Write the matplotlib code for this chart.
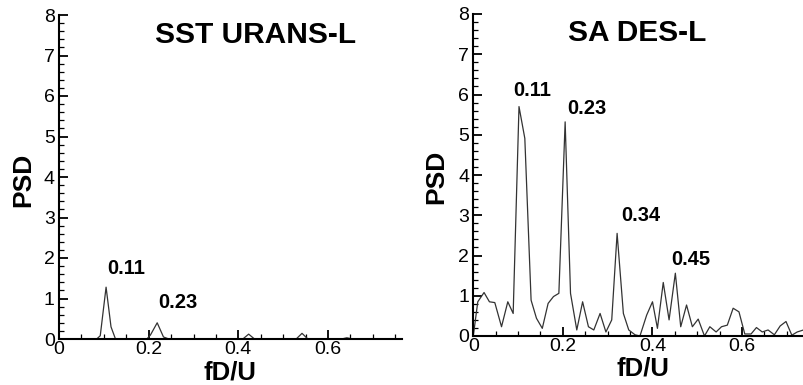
"""Two PSD spectra side by side (SST URANS-L vs SA DES-L), Tecplot-like styling."""
import matplotlib
matplotlib.use("Agg")
import matplotlib.pyplot as plt
from matplotlib.ticker import MultipleLocator

plt.rcParams["font.family"] = ["Liberation Sans", "DejaVu Sans"]

# SST URANS-L: nearly flat, two small peaks
sst_f = [0.0, 0.084, 0.092, 0.105, 0.116, 0.126, 0.196, 0.204, 0.219, 0.233, 0.245,
         0.410, 0.423, 0.436, 0.529, 0.542, 0.555, 0.630, 0.642, 0.655, 0.765]
sst_psd = [0.0, 0.0, 0.08, 1.28, 0.30, 0.0, 0.0, 0.10, 0.40, 0.05, 0.0,
           0.0, 0.12, 0.0, 0.0, 0.14, 0.0, 0.0, 0.03, 0.0, 0.0]

# SA DES-L: broadband with harmonics
des_f = [0.000, 0.010, 0.024, 0.036, 0.048, 0.063, 0.077, 0.089, 0.102, 0.115,
         0.129, 0.141, 0.154, 0.167, 0.179, 0.191, 0.205, 0.217, 0.231, 0.244,
         0.257, 0.269, 0.283, 0.296, 0.309, 0.321, 0.335, 0.347, 0.361, 0.372,
         0.387, 0.400, 0.411, 0.424, 0.437, 0.451, 0.463, 0.476, 0.489, 0.502,
         0.516, 0.528, 0.542, 0.554, 0.567, 0.580, 0.593, 0.606, 0.620, 0.632,
         0.645, 0.658, 0.672, 0.685, 0.698, 0.711, 0.723, 0.737, 0.750]
des_psd = [0.00, 0.85, 1.08, 0.85, 0.83, 0.23, 0.85, 0.56, 5.70, 4.91,
           0.89, 0.44, 0.19, 0.81, 0.98, 1.06, 5.32, 1.06, 0.15, 0.85,
           0.23, 0.15, 0.56, 0.10, 0.40, 2.55, 0.56, 0.15, 0.03, 0.00,
           0.52, 0.85, 0.19, 1.33, 0.40, 1.56, 0.23, 0.77, 0.23, 0.42,
           0.00, 0.23, 0.10, 0.23, 0.27, 0.69, 0.60, 0.05, 0.05, 0.21,
           0.10, 0.15, 0.03, 0.25, 0.36, 0.02, 0.10, 0.15, 0.15]

sst_peaks = [("0.11", 0.150, 1.75), ("0.23", 0.266, 0.89)]
des_peaks = [("0.11", 0.131, 6.11), ("0.23", 0.254, 5.66),
             ("0.34", 0.374, 3.00), ("0.45", 0.486, 1.89)]


def style(ax, xmax):
    ax.set_xlim(0, xmax)
    ax.set_ylim(0, 8)
    ax.xaxis.set_major_locator(MultipleLocator(0.2))
    ax.xaxis.set_minor_locator(MultipleLocator(0.05))
    ax.yaxis.set_major_locator(MultipleLocator(1))
    ax.yaxis.set_minor_locator(MultipleLocator(0.2))
    ax.set_xticks([0, 0.2, 0.4, 0.6])
    ax.set_xticklabels(["0", "0.2", "0.4", "0.6"])
    for s in ("top", "right"):
        ax.spines[s].set_visible(False)
    for s in ("left", "bottom"):
        ax.spines[s].set_linewidth(1.5)
    ax.tick_params(which="major", direction="in", length=6.5, width=1.3,
                   labelsize=14, pad=3)
    ax.tick_params(axis="x", which="major", pad=1.5)
    ax.tick_params(which="minor", direction="in", length=3.5, width=0.9)
    ax.patch.set_alpha(0)


fig = plt.figure(figsize=(8.04, 3.85), dpi=100)
# axes placed in pixel terms: left panel x 59..402, y 15..339; right x 473..(past edge), y 14..336
ax1 = fig.add_axes([59 / 804, 46 / 385, 343 / 804, 324 / 385])
ax2 = fig.add_axes([473.3 / 804, 49 / 385, 336 / 804, 322 / 385])

ax1.plot(sst_f, sst_psd, color="#333333", lw=0.9, clip_on=False)
ax2.plot(des_f, des_psd, color="#333333", lw=0.9)
style(ax1, 0.765)
style(ax2, 0.75)

for ax, peaks in ((ax1, sst_peaks), (ax2, des_peaks)):
    for txt, x, y in peaks:
        ax.text(x, y, txt, ha="center", va="center", fontsize=14.5, fontweight="bold")

ax1.text(0.4375, 7.5, "SST URANS-L", ha="center", va="center", fontsize=21.5, fontweight="bold")
ax2.text(0.365, 7.53, "SA DES-L", ha="center", va="center", fontsize=21.5, fontweight="bold")

fig.text(23 / 804, 1 - 180 / 385, "PSD", rotation=90, ha="center", va="center",
         fontsize=19, fontweight="bold")
fig.text(436 / 804, 1 - 177 / 385, "PSD", rotation=90, ha="center", va="center",
         fontsize=19, fontweight="bold")
fig.text(230 / 804, 1 - 372 / 385, "fD/U", ha="center", va="center", fontsize=18.5, fontweight="bold")
fig.text(643 / 804, 1 - 369 / 385, "fD/U", ha="center", va="center", fontsize=18.5, fontweight="bold")

fig.savefig("out.png", dpi=100)
